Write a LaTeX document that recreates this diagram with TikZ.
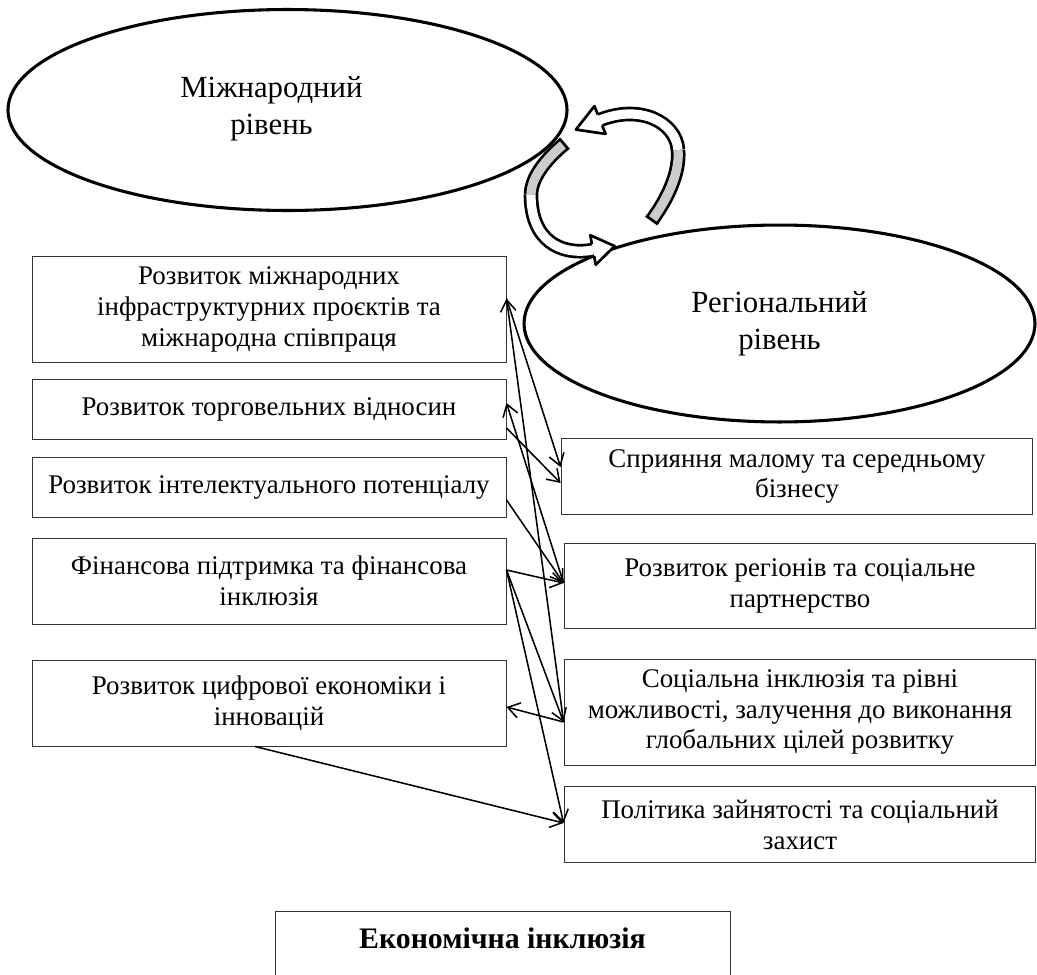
\documentclass[tikz,border=0pt]{standalone}
\usepackage{fontspec}
\setmainfont{Liberation Serif}
\usetikzlibrary{arrows.meta,calc,shapes.geometric}

\begin{document}
\begin{tikzpicture}[x=0.52pt,y=-0.52pt,
  box/.style={draw=black!80,line width=0.5pt,inner sep=0pt,align=center,font=\fontsize{14}{16.1}\selectfont},
  level/.style={draw,ellipse,line width=1.6pt,inner sep=0pt,align=center,font=\fontsize{16}{19}\selectfont},
  con/.style={line width=0.8pt,-{Straight Barb[length=6pt,width=8pt]}},
  band/.style={double=#1,double distance=4.8pt,line width=1.4pt}]
\useasboundingbox (0,0) rectangle (1037,975);

\node[level,minimum width=290.7pt,minimum height=104.5pt] (intl) at (287.5,110) {};
\node[align=center,font=\fontsize{16}{19}\selectfont] (intltext) at ($(intl.center)+(-16,-1.5)$) {Міжнародний\\рівень};
\node[level,minimum width=265.7pt,minimum height=102.4pt] (reg) at (779.5,323.5) {Регіональний\\рівень};

\node[box,minimum width=246.5pt,minimum height=55.6pt] (infra) at (269,309.5) {Розвиток міжнародних\\інфраструктурних проєктів та\\міжнародна співпраця};
\node[box,minimum width=246.5pt,minimum height=31.2pt] (trade) at (269,409) {Розвиток торговельних відносин};
\node[box,minimum width=246.5pt,minimum height=31.2pt] (intel) at (269,487) {Розвиток інтелектуального потенціалу};
\node[box,minimum width=246.5pt,minimum height=44.7pt] (fin) at (269,581) {Фінансова підтримка та фінансова\\інклюзія};
\node[box,minimum width=246.5pt,minimum height=44.7pt] (digit) at (269,703) {Розвиток цифрової економіки і\\інновацій};

\node[box,minimum width=245.4pt,minimum height=40pt] (sme) at (797,476.5) {Сприяння малому та середньому\\бізнесу};
\node[box,minimum width=245.4pt,minimum height=44.2pt] (regdev) at (800,585.5) {Розвиток регіонів та соціальне\\партнерство};
\node[box,minimum width=245.4pt,minimum height=55.1pt] (social) at (800,712) {Соціальна інклюзія та рівні\\можливості, залучення до виконання\\глобальних цілей розвитку};
\node[box,minimum width=245.4pt,minimum height=40pt] (employ) at (800,824.5) {Політика зайнятості та соціальний\\захист};

\node[draw=black!80,line width=0.5pt,inner sep=0pt,anchor=north,font=\fontsize{15.5}{17.8}\selectfont\bfseries,
  minimum width=236.6pt,text height=19.2pt,text depth=31.2pt] (econ) at (502.5,911) {Економічна інклюзія};

\coordinate (ia) at ($(infra.east)+(0,-11)$);
\coordinate (ta) at ($(trade.east)+(0,-6)$);
\coordinate (tb) at ($(trade.east)+(0,19)$);
\coordinate (ic) at ($(intel.east)+(0,13)$);
\coordinate (fd) at ($(fin.east)+(0,-11)$);
\coordinate (de) at ($(digit.east)+(0,4)$);
\coordinate (ds) at ($(digit.south)+(-14,0)$);
\coordinate (sa) at ($(sme.west)+(0,-9.5)$);
\coordinate (sb) at ($(sme.west)+(0,6.5)$);
\coordinate (rd) at ($(regdev.west)+(0,-2.5)$);
\coordinate (so) at ($(social.west)+(0,10)$);
\coordinate (em) at ($(employ.west)+(0,-1.5)$);

\draw[con] (so) -- (ia);
\draw[con] (ia) -- (sa);
\draw[con] (rd) -- (ta);
\draw[con] (tb) -- (sb);
\draw[con] (ic) -- (rd);
\foreach \t in {rd,so,em}
   \draw[con] (fd) -- (\t);
\draw[con] (so) -- (de);
\draw[con] (ds) -- (em);

\draw[band=gray!40] (652,220) .. controls (668,198) and (680,172) .. (678,150);
\draw[band=white] (678,150) .. controls (676,122) and (640,104) .. (600,120);
\draw[line width=1.4pt,line cap=rect] (647.1,216.5) -- (656.9,223.5);
\filldraw[fill=white,line width=1.4pt,line join=round] (602.2,125.6) -- (605.6,133.9) -- (575.9,129.6) -- (594.4,106.1) -- (597.8,114.4);

\draw[band=gray!40] (564,144) .. controls (545,160) and (531,178) .. (531,195);
\draw[band=white] (531,195) .. controls (531,240) and (560,256) .. (593,250);
\draw[line width=1.4pt,line cap=rect] (560.1,139.4) -- (567.9,148.6);
\filldraw[fill=white,line width=1.4pt,line join=round] (594.1,255.9) -- (595.7,264.8) -- (614.6,246.1) -- (590.3,235.2) -- (591.9,244.1);
\end{tikzpicture}
\end{document}
